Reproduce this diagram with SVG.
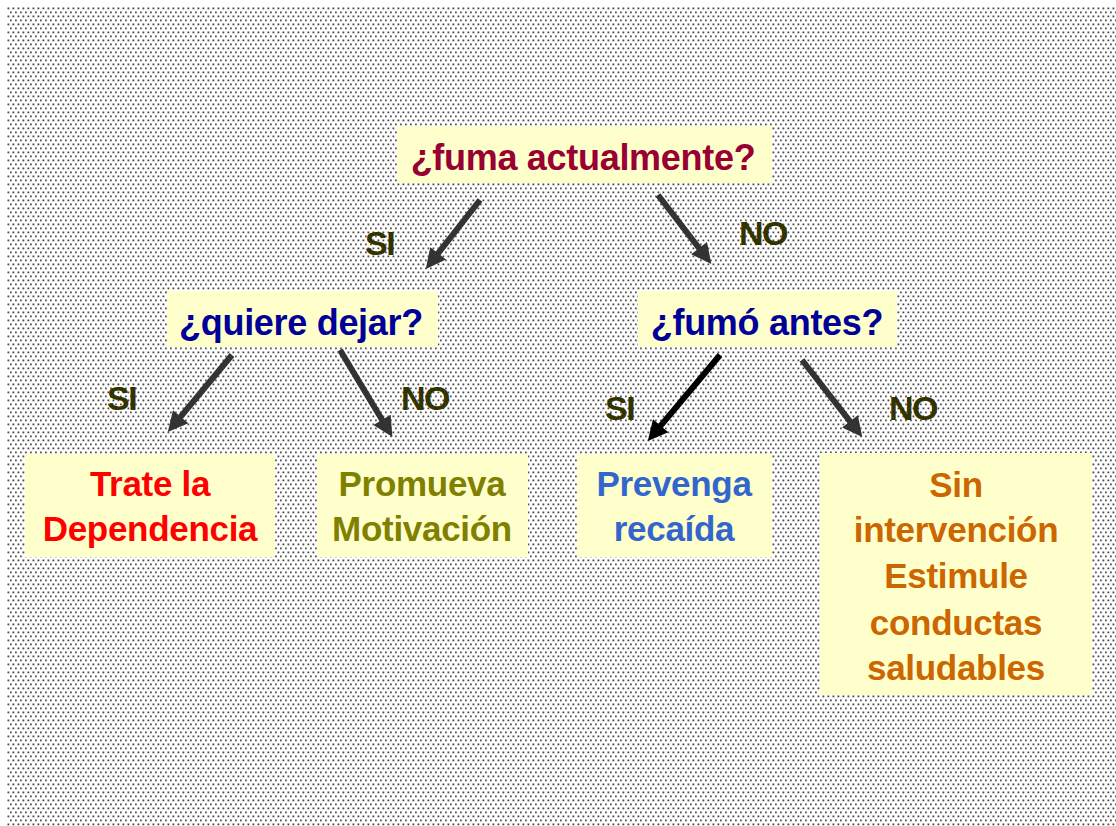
<svg xmlns="http://www.w3.org/2000/svg" width="1116" height="826" viewBox="0 0 1116 826">
<style>
.box{fill:#FFFFCC}
.t{font-family:"Liberation Sans",Arial,sans-serif;font-weight:bold;text-anchor:middle}
.q{font-size:36px;letter-spacing:-0.3px}
.leaf{font-size:35px;letter-spacing:-0.3px}
.lbl{font-family:"Liberation Sans",Arial,sans-serif;font-weight:bold;font-size:34px;fill:#333300;letter-spacing:-1.5px}
.arr{fill:none;stroke:#333333;stroke-width:6}
</style>
<defs>
<pattern id="dots" x="7" y="7" width="5" height="8" patternUnits="userSpaceOnUse">
<rect x="0.5" y="0.5" width="1.8" height="1.8" fill="#444"/>
<rect x="3" y="4.5" width="1.8" height="1.8" fill="#555"/>
</pattern>
<marker id="ah" viewBox="0 0 10 10" refX="4" refY="5" markerUnits="userSpaceOnUse" markerWidth="22" markerHeight="20" orient="auto">
<path d="M0,0 L10,5 L0,10 z" fill="#333333"/>
</marker>
<marker id="ahk" viewBox="0 0 10 10" refX="4" refY="5" markerUnits="userSpaceOnUse" markerWidth="22" markerHeight="20" orient="auto">
<path d="M0,0 L10,5 L0,10 z" fill="#000000"/>
</marker>
</defs>
<rect width="1116" height="826" fill="#FFFFFF"/>
<rect x="7" y="7" width="1109" height="819" fill="url(#dots)"/>

<g id="connectors">
<path class="arr" d="M480,200 L433.2,259.6" marker-end="url(#ah)"/>
<path class="arr" d="M658,195 L704,254.5" marker-end="url(#ah)"/>
<path class="arr" d="M232,355 L175.5,422.9" marker-end="url(#ah)"/>
<path class="arr" d="M340,350 L386.2,426.7" marker-end="url(#ah)"/>
<path class="arr" d="M720,355 L655.5,431.9" marker-end="url(#ahk)" style="stroke:#000000"/>
<path class="arr" d="M802,360 L854.9,427.6" marker-end="url(#ah)"/>
<text class="lbl" x="365" y="255">SI</text>
<text class="lbl" x="739" y="245">NO</text>
<text class="lbl" x="107" y="410">SI</text>
<text class="lbl" x="401" y="410">NO</text>
<text class="lbl" x="605" y="420">SI</text>
<text class="lbl" x="889" y="420">NO</text>
</g>

<g id="n-fuma">
<rect class="box" x="397" y="126" width="375" height="57"/>
<text class="t q" x="583" y="170" fill="#990033">¿fuma actualmente?</text>
</g>
<g id="n-quiere">
<rect class="box" x="167" y="291" width="271" height="56"/>
<text class="t q" x="301" y="335" fill="#000099">¿quiere dejar?</text>
</g>
<g id="n-fumo">
<rect class="box" x="638" y="291" width="259" height="56"/>
<text class="t q" x="767" y="335" fill="#000099">¿fumó antes?</text>
</g>
<g id="n-trate">
<rect class="box" x="25" y="454" width="250" height="103"/>
<text class="t leaf" x="150" y="496" fill="#FF0000">Trate la</text>
<text class="t leaf" x="150" y="541" fill="#FF0000">Dependencia</text>
</g>
<g id="n-promueva">
<rect class="box" x="317" y="454" width="211" height="103"/>
<text class="t leaf" x="422" y="496" fill="#808000">Promueva</text>
<text class="t leaf" x="422" y="541" fill="#808000">Motivación</text>
</g>
<g id="n-prevenga">
<rect class="box" x="577" y="454" width="195" height="103"/>
<text class="t leaf" x="674" y="496" fill="#3366CC">Prevenga</text>
<text class="t leaf" x="674" y="541" fill="#3366CC">recaída</text>
</g>
<g id="n-sin">
<rect class="box" x="820" y="453" width="272" height="242"/>
<text class="t leaf" x="956" y="497" fill="#CC6600">Sin</text>
<text class="t leaf" x="956" y="542" fill="#CC6600">intervención</text>
<text class="t leaf" x="956" y="588" fill="#CC6600">Estimule</text>
<text class="t leaf" x="956" y="635" fill="#CC6600">conductas</text>
<text class="t leaf" x="956" y="680" fill="#CC6600">saludables</text>
</g>
</svg>
